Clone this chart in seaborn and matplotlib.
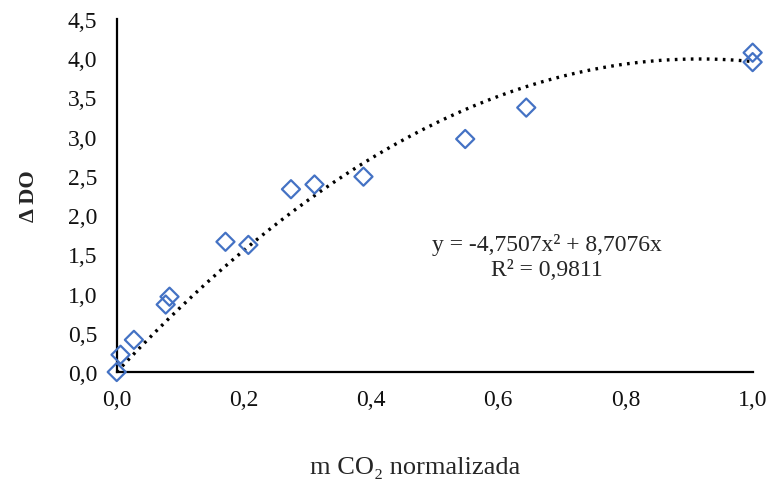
import numpy as np
import pandas as pd
import matplotlib
matplotlib.use("Agg")
import matplotlib.pyplot as plt
import seaborn as sns
from matplotlib.ticker import FuncFormatter

# data
m_co2 = [0.0, 0.006, 0.027, 0.077, 0.083, 0.171, 0.207, 0.274, 0.311, 0.388,
         0.548, 0.644, 1.0, 1.0]
delta_do = [0.0, 0.22, 0.41, 0.86, 0.96, 1.66, 1.62, 2.33, 2.39, 2.49,
            2.97, 3.37, 4.07, 3.95]

# polynomial trendline as shown in the chart
coef_a = -4.7507
coef_b = 8.7076
r2 = 0.9811

x_ticks = [0.0, 0.2, 0.4, 0.6, 0.8, 1.0]
y_ticks = [0.0, 0.5, 1.0, 1.5, 2.0, 2.5, 3.0, 3.5, 4.0, 4.5]

df = pd.DataFrame({"x": m_co2, "y": delta_do})
x_fit = np.linspace(0, 1, 200)
fit_df = pd.DataFrame({"x": x_fit, "y": coef_a * x_fit ** 2 + coef_b * x_fit})

sns.set_style("white")
plt.rcParams["font.family"] = ["Liberation Serif", "DejaVu Serif"]

fig = plt.figure(figsize=(7.68, 4.81), dpi=100)
ax = fig.add_axes([0.152, 0.2245, 0.828, 0.734])

sns.lineplot(data=fit_df, x="x", y="y", ax=ax, color="black",
             linestyle=(0, (0.8, 1.6)), linewidth=2.4, zorder=2)
sns.scatterplot(data=df, x="x", y="y", ax=ax, marker="D", s=85,
                facecolor="none", edgecolor="#4472C4", linewidth=1.6,
                zorder=3, clip_on=False)

ax.set_xlim(0, 1.0)
ax.set_ylim(0, 4.5)
ax.set_xticks(x_ticks)
ax.set_yticks(y_ticks)
comma = FuncFormatter(lambda v, p: f"{v:.1f}".replace(".", ","))
ax.xaxis.set_major_formatter(comma)
ax.yaxis.set_major_formatter(comma)
ax.tick_params(axis="both", length=0, labelsize=17, colors="#111111")
ax.tick_params(axis="x", pad=12)
ax.tick_params(axis="y", pad=14)

for s in ["top", "right"]:
    ax.spines[s].set_visible(False)
for s in ["left", "bottom"]:
    ax.spines[s].set_color("black")
    ax.spines[s].set_linewidth(1.6)

ax.set_xlabel("m CO\u2082 normalizada", fontsize=19)
ax.xaxis.set_label_coords(0.469, -0.238)
ax.set_ylabel("\u0394 DO", fontsize=16, fontweight="bold")
ax.yaxis.set_label_coords(-0.123, 0.5)

ax.text(0.676, 1.63, "y = -4,7507x\u00b2 + 8,7076x", fontsize=17,
        ha="center", va="center")
ax.text(0.676, 1.31, f"R\u00b2 = {r2:.4f}".replace(".", ","), fontsize=17,
        ha="center", va="center")

fig.savefig("out.png", dpi=100)
